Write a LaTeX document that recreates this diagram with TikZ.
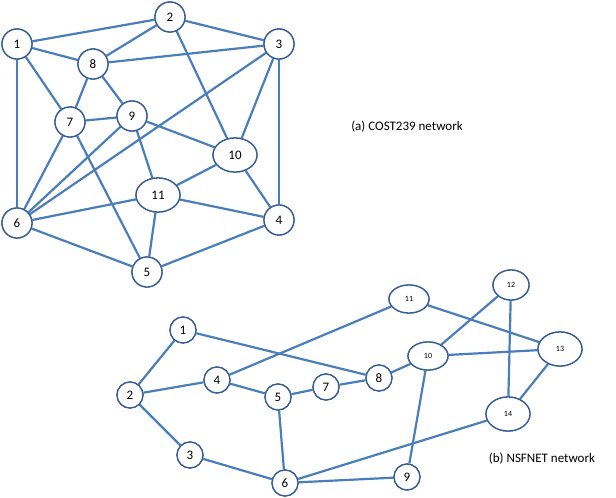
\documentclass[tikz,border=0pt]{standalone}
\usepackage{fontspec}
\setmainfont{Carlito}
\definecolor{edgec}{RGB}{74,126,187}
\definecolor{nodec}{RGB}{52,92,150}
\begin{document}
\begin{tikzpicture}[x=1pt,y=-1pt,
  nd/.style={circle,draw=nodec,line width=1.3pt,fill=white,minimum size=30pt,inner sep=0pt,font=\fontsize{13}{13}\selectfont},
  ne/.style={ellipse,draw=nodec,line width=1.3pt,fill=white,minimum width=44pt,minimum height=34pt,inner sep=0pt,font=\fontsize{13}{13}\selectfont},
  sn/.style={circle,draw=nodec,line width=1.3pt,fill=white,minimum size=26pt,inner sep=0pt,font=\fontsize{13}{13}\selectfont},
  se/.style={ellipse,draw=nodec,line width=1.3pt,fill=white,minimum width=40pt,minimum height=28pt,inner sep=0pt,font=\fontsize{8}{8}\selectfont},
  ed/.style={draw=edgec,line width=2.2pt}]
\useasboundingbox (0,0) rectangle (616,498);
\usetikzlibrary{shapes.geometric}
% COST239
\node[nd] (a1) at (17,44) {1};
\node[nd] (a2) at (170,17) {2};
\node[nd] (a3) at (279,44) {3};
\node[nd] (a4) at (279,220) {4};
\node[nd] (a5) at (147,272) {5};
\node[nd] (a6) at (17,223) {6};
\node[nd] (a7) at (70,122) {7};
\node[nd] (a8) at (93,64) {8};
\node[nd] (a9) at (132,116) {9};
\node[ne] (a10) at (235,155) {10};
\node[ne] (a11) at (158,195) {11};
\begin{scope}[on background layer/.style={}]
\end{scope}
\foreach \u/\v in {1/2,2/3,1/8,1/7,1/6,2/8,2/10,3/8,3/6,3/10,3/4,8/7,8/9,7/9,7/6,7/5,9/6,9/10,9/11,10/11,10/4,11/6,11/4,11/5,6/5,5/4}
  \draw[ed] (a\u) -- (a\v);
\foreach \n in {1,...,9} \node[nd] at (a\n) {\n};
\node[ne] at (a10) {10};
\node[ne] at (a11) {11};
\node (la) at (407,127) {\fontsize{13}{13}\selectfont (a) COST239 network};
% NSFNET
\node[sn] (b1) at (183,330) {1};
\node[sn] (b2) at (130,395) {2};
\node[sn] (b3) at (190,455) {3};
\node[sn] (b4) at (217,380) {4};
\node[sn] (b5) at (278,397) {5};
\node[sn] (b6) at (285,483) {6};
\node[sn] (b7) at (326,387) {7};
\node[sn] (b8) at (379,378) {8};
\node[sn] (b9) at (407,477) {9};
\node[se] (b10) at (428,356) {10};
\node[se] (b11) at (409,299) {11};
\node[se,minimum width=36pt,minimum height=30pt] (b12) at (511,285) {12};
\node[se,minimum width=44pt,minimum height=34pt] (b13) at (560,349) {13};
\node[se,minimum width=44pt,minimum height=34pt] (b14) at (508,414) {14};
\foreach \u/\v in {1/2,1/8,2/4,2/3,3/6,4/11,4/5,5/7,7/8,5/6,8/10,10/12,10/13,10/9,11/13,12/14,13/14,14/6,6/9}
  \draw[ed] (b\u) -- (b\v);
\foreach \n in {1,...,9} \node[sn] at (b\n) {\n};
\node[se] at (b10) {10};
\node[se] at (b11) {11};
\node[se,minimum width=36pt,minimum height=30pt] at (b12) {12};
\node[se,minimum width=44pt,minimum height=34pt] at (b13) {13};
\node[se,minimum width=44pt,minimum height=34pt] at (b14) {14};
\node (lb) at (542,459) {\fontsize{13}{13}\selectfont (b) NSFNET network};
\end{tikzpicture}
\end{document}
